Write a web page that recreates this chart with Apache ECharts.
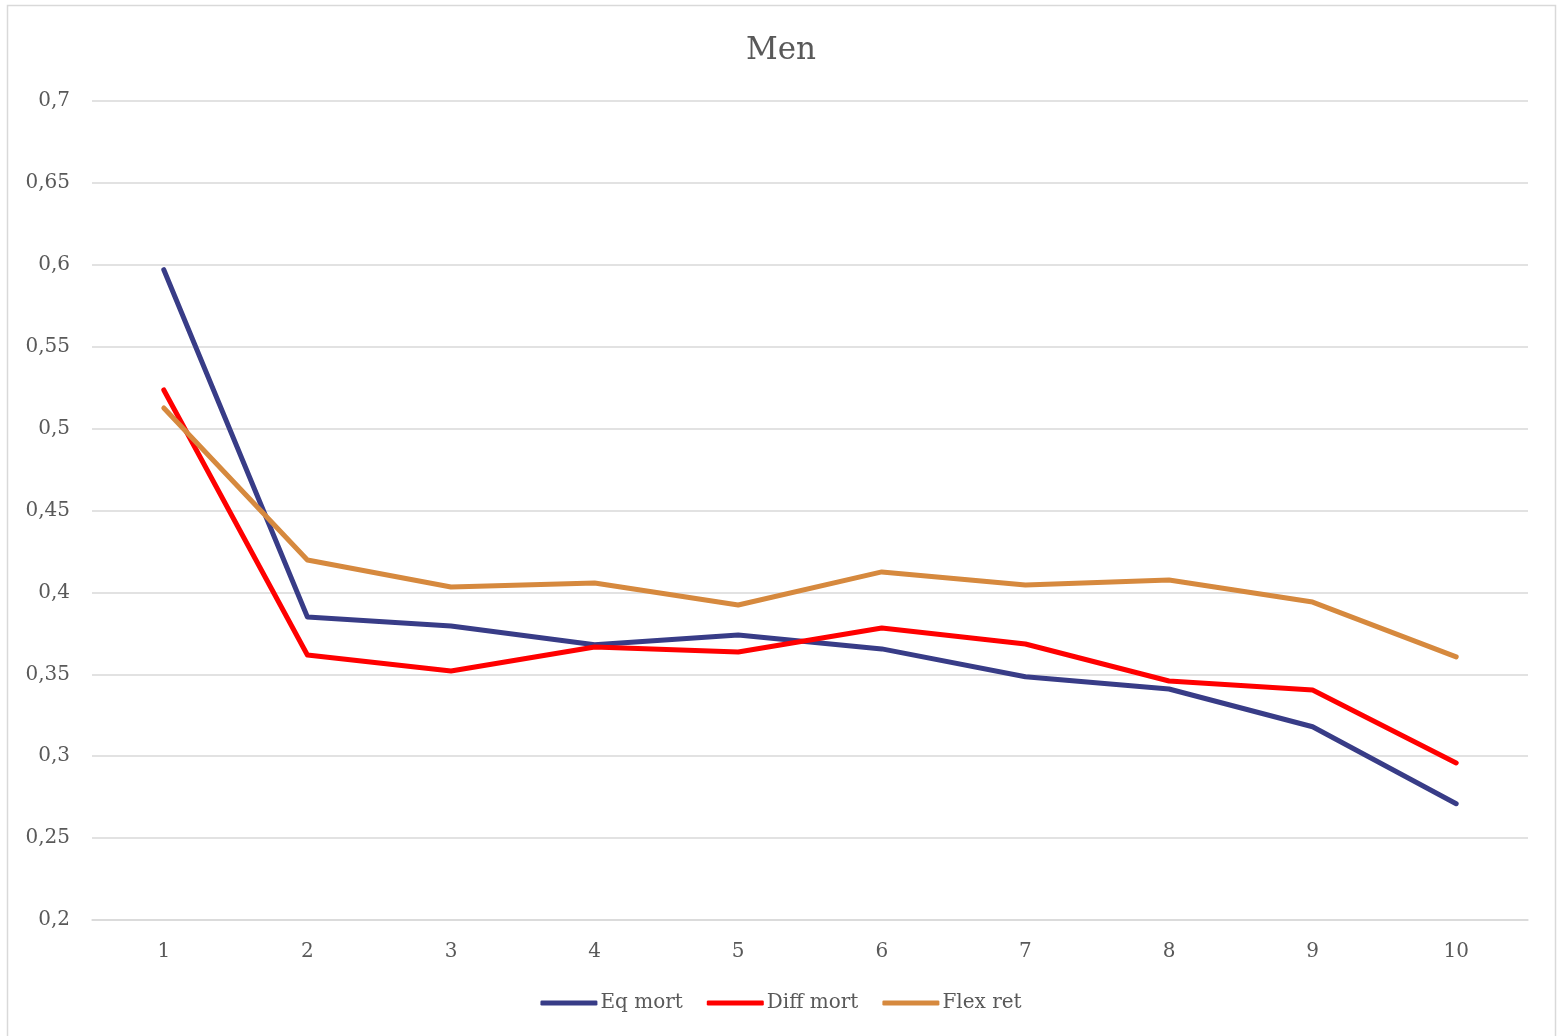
<!DOCTYPE html>
<html><head><meta charset="utf-8">
<script src="https://cdn.jsdelivr.net/npm/echarts@6/dist/echarts.min.js"></script>
<style>html,body{margin:0;padding:0;background:#fff;}#c{width:1562px;height:1036px;}</style>
</head><body><div id="c"></div>
<script>
const categories = ['1','2','3','4','5','6','7','8','9','10'];
const eqMort = [0.597, 0.385, 0.3795, 0.368, 0.374, 0.3655, 0.3485, 0.341, 0.318, 0.271];
const diffMort = [0.5236, 0.3618, 0.352, 0.3667, 0.3636, 0.3783, 0.3685, 0.3459, 0.3404, 0.2959];
const flexRet = [0.5126, 0.4198, 0.4033, 0.4057, 0.3923, 0.4125, 0.4045, 0.4076, 0.3941, 0.3606];
const seriesNames = ['Eq mort', 'Diff mort', 'Flex ret'];
const colors = ['#383C87', '#FF0000', '#D6893E'];

const font = '"DejaVu Serif", "Liberation Serif", serif';
const chart = echarts.init(document.getElementById('c'));
const mk = (name, data, color) => ({
  name, type: 'line', data, symbol: 'none', smooth: false,
  lineStyle: { color, width: 5, cap: 'round', join: 'round' },
  itemStyle: { color }
});
chart.setOption({
  animation: false,
  backgroundColor: '#fff',
  graphic: [{ type: 'rect', shape: { x: 7.5, y: 5.5, width: 1548, height: 1040 },
    style: { fill: 'none', stroke: '#d9d9d9', lineWidth: 1.5 }, silent: true }],
  title: { text: 'Men', left: 'center', top: 30,
    textStyle: { fontFamily: font, fontSize: 31, fontWeight: 'normal', color: '#595959' } },
  legend: { bottom: 18, left: 'center', itemWidth: 57, itemHeight: 5, itemGap: 24,
    icon: 'roundRect',
    textStyle: { fontFamily: font, fontSize: 20, color: '#595959', padding: [0, 0, 0, -2] },
    data: seriesNames },
  grid: { left: 92, right: 34, top: 101, bottom: 116 },
  xAxis: { type: 'category', data: categories, boundaryGap: true,
    axisLine: { show: true, lineStyle: { color: '#d9d9d9', width: 1.5 } },
    axisTick: { show: false },
    axisLabel: { fontFamily: font, fontSize: 20, color: '#595959', margin: 22 } },
  yAxis: { type: 'value', min: 0.2, max: 0.7, interval: 0.05,
    axisLine: { show: false }, axisTick: { show: false },
    splitLine: { lineStyle: { color: '#d9d9d9', width: 1.5 } },
    axisLabel: { fontFamily: font, fontSize: 20, color: '#595959', margin: 22, padding: [5, 0, 0, 0],
      formatter: v => String(+v.toFixed(2)).replace('.', ',') } },
  series: [mk(seriesNames[0], eqMort, colors[0]), mk(seriesNames[1], diffMort, colors[1]), mk(seriesNames[2], flexRet, colors[2])]
});
</script></body></html>
